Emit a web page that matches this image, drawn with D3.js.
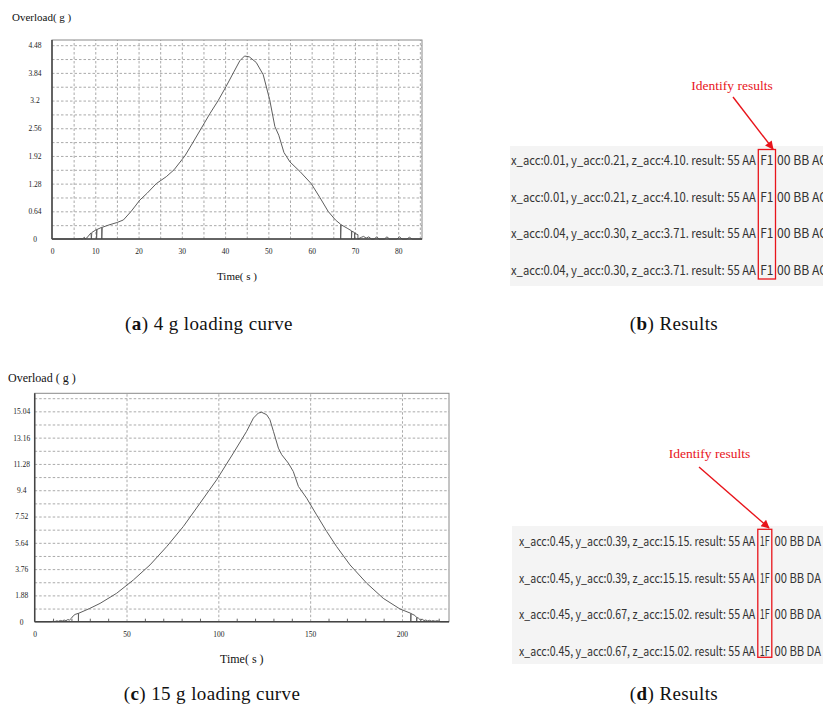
<!DOCTYPE html>
<html>
<head>
<meta charset="utf-8">
<script src="https://cdn.jsdelivr.net/npm/d3@7"></script>
<style>
  body { margin: 0; background: #fff; }
  svg { display: block; }
</style>
</head>
<body>
<svg id="fig" width="823" height="704"></svg>
<script>
// ---- (a) 4 g loading run: time (s) and overload (g) samples ----
const timeA = [0, 6.0, 6.5, 7.0, 7.5, 7.6, 8.0, 9.0, 9.1, 9.2, 10.3, 10.3, 10.4, 11.5, 11.5, 11.6,
  13.0, 15.0, 16.5, 18.3, 20.3, 22.0, 24.1, 26.4, 28.2, 30.7, 32.5, 34.5, 36.5, 38.4, 40.2, 41.9,
  43.4, 44.5, 45.6, 47.2, 48.8, 50.3, 51.5, 52.4, 53.6, 55.0, 57.3, 59.9, 61.9, 63.8, 65.5, 66.7,
  66.7, 66.8, 68.2, 69.2, 69.2, 69.3, 69.9, 69.9, 70.0, 70.7, 70.7, 71.5, 72.0, 72.6, 73.2, 73.8,
  74.5, 75.0, 75.6, 76.8, 77.4, 78.0, 79.7, 80.3, 80.9, 82.0, 82.6, 83.2, 85.5];
const overloadA = [0, 0, 0.01, 0, 0.04, 0, 0.02, 0.14, 0, 0.15, 0.22, 0, 0.22, 0.27, 0, 0.27,
  0.32, 0.38, 0.44, 0.64, 0.90, 1.06, 1.28, 1.44, 1.60, 1.92, 2.22, 2.56, 2.90, 3.20, 3.52, 3.84,
  4.12, 4.23, 4.21, 4.08, 3.80, 3.22, 2.60, 2.40, 2.00, 1.78, 1.56, 1.28, 0.96, 0.64, 0.44, 0.34,
  0, 0.33, 0.25, 0.19, 0, 0.18, 0.15, 0, 0.13, 0.10, 0, 0.04, 0.06, 0.02, 0.05, 0,
  0, 0.05, 0, 0, 0.05, 0, 0, 0.05, 0, 0, 0.04, 0, 0];
const yTicksA = [0, 0.64, 1.28, 1.92, 2.56, 3.2, 3.84, 4.48];
const xTicksA = [0, 10, 20, 30, 40, 50, 60, 70, 80];

// ---- (c) 15 g loading run ----
const timeC = [0, 9, 10, 11, 12, 13, 14, 15, 16, 17, 18, 19, 20, 21, 22, 23.8, 23.8, 23.9,
  30, 35.6, 44.6, 53.7, 62.8, 71.9, 80.9, 90, 99.1, 108.2, 115.4, 119.1, 121.8, 123.6, 126.3,
  128.1, 130, 132.7, 134.5, 138.1, 140.8, 143.6, 148.1, 153.5, 159, 164.4, 171.7, 180.8, 189.8,
  198.9, 204.8, 204.8, 204.9, 207, 208, 208, 208.1, 209, 210, 211, 212, 213, 214, 215, 216, 217,
  218, 219, 220.7, 221, 225.6];
const overloadC = [0, 0, 0.03, 0.01, 0.06, 0.03, 0.09, 0.05, 0.12, 0.07, 0.15, 0.12, 0.25, 0.42,
  0.52, 0.60, 0, 0.60, 0.95, 1.31, 2.03, 2.98, 4.06, 5.37, 6.80, 8.47, 10.15, 12.06, 13.61, 14.56,
  14.92, 14.97, 14.80, 14.44, 13.61, 12.41, 11.94, 11.34, 10.74, 9.67, 8.83, 7.64, 6.45, 5.37,
  4.06, 2.75, 1.67, 0.91, 0.60, 0, 0.58, 0.45, 0.30, 0, 0.30, 0.25, 0.12, 0.18, 0.08, 0.12,
  0.05, 0.10, 0.04, 0.08, 0.03, 0.07, 0.02, 0, 0];
const yTicksC = [0, 1.88, 3.76, 5.64, 7.52, 9.4, 11.28, 13.16, 15.04];
const xTicksC = [0, 50, 100, 150, 200];

// ---- (b)/(d) serial output of the recognizer ----
const xAccB = ["0.01", "0.01", "0.04", "0.04"];
const yAccB = ["0.21", "0.21", "0.30", "0.30"];
const zAccB = ["4.10", "4.10", "3.71", "3.71"];
const codeB = "F1";
const tailB = "00 BB AC";

const xAccD = ["0.45", "0.45", "0.45", "0.45"];
const yAccD = ["0.39", "0.39", "0.67", "0.67"];
const zAccD = ["15.15", "15.15", "15.02", "15.02"];
const codeD = "1F";
const tailD = "00 BB DA";

const svg = d3.select("#fig");
const SERIF = "'Liberation Serif', 'Times New Roman', serif";

// Arrowhead for the callouts
svg.append("defs").append("marker")
  .attr("id", "arrowhead")
  .attr("viewBox", "0 0 10 10")
  .attr("refX", 9).attr("refY", 5)
  .attr("markerWidth", 7).attr("markerHeight", 6)
  .attr("markerUnits", "strokeWidth")
  .attr("orient", "auto")
  .append("path").attr("d", "M0,0 L10,5 L0,10 Z").attr("fill", "#e8141b");

function loadingPanel(o) {
  const x = d3.scaleLinear().domain(o.xDomain).range([o.left, o.right]);
  const y = d3.scaleLinear().domain(o.yDomain).range([o.bottom, o.top]);
  const w = o.right - o.left, h = o.bottom - o.top;
  const g = svg.append("g");

  // dashed grid
  const gy = g.append("g").attr("transform", `translate(${o.left},0)`)
    .call(d3.axisLeft(y).tickValues(o.hGrid).tickSize(-w).tickFormat(""));
  const gx = g.append("g").attr("transform", `translate(0,${o.bottom})`)
    .call(d3.axisBottom(x).tickValues(o.vGrid).tickSize(-h).tickFormat(""));
  [gy, gx].forEach(s => {
    s.select(".domain").remove();
    s.selectAll("line").attr("stroke", "#aaaaaa").attr("stroke-width", 1)
      .attr("stroke-dasharray", "2.5,2");
  });

  // minor ticks along the time axis
  if (o.minor) {
    const gm = g.append("g").attr("transform", `translate(0,${o.bottom})`)
      .call(d3.axisBottom(x).tickValues(o.minor).tickSize(-3).tickFormat(""));
    gm.select(".domain").remove();
    gm.selectAll("line").attr("stroke", "#666");
  }

  // frame
  g.append("rect").attr("x", o.left).attr("y", o.top).attr("width", w).attr("height", h)
    .attr("fill", "none").attr("stroke", "#8a8a8a").attr("stroke-width", 1);
  g.append("line").attr("x1", o.left).attr("x2", o.left).attr("y1", o.top).attr("y2", o.bottom)
    .attr("stroke", "#444").attr("stroke-width", 1.5);

  // curve
  const pts = o.t.map((t, i) => [t, o.v[i]]);
  g.append("path").datum(pts)
    .attr("fill", "none").attr("stroke", "#5e5e5e").attr("stroke-width", 1)
    .attr("stroke-linejoin", "round")
    .attr("d", d3.line().x(d => x(d[0])).y(d => y(d[1])));

  g.append("line").attr("x1", o.left).attr("x2", o.right).attr("y1", o.bottom).attr("y2", o.bottom)
    .attr("stroke", "#444").attr("stroke-width", 1.5);

  // tick labels
  const ay = g.append("g").attr("transform", `translate(${o.left},0)`)
    .call(d3.axisLeft(y).tickValues(o.yTicks).tickSize(0).tickFormat(d => String(d)));
  ay.select(".domain").remove();
  ay.selectAll("text").attr("text-anchor", "middle").attr("x", -o.yLabelOffset)
    .attr("font-family", SERIF).attr("font-size", o.tickSize).attr("fill", "#222");

  const ax = g.append("g").attr("transform", `translate(0,${o.bottom})`)
    .call(d3.axisBottom(x).tickValues(o.xTicks).tickSize(0).tickPadding(o.xLabelPad).tickFormat(d => String(d)));
  ax.select(".domain").remove();
  ax.selectAll("text").attr("font-family", SERIF).attr("font-size", o.tickSize).attr("fill", "#222");

  // axis titles
  g.append("text").attr("x", o.yTitleX).attr("y", o.yTitleY)
    .attr("font-family", SERIF).attr("font-size", o.titleSize).attr("fill", "#111")
    .text(o.yTitle);
  g.append("text").attr("x", (o.left + o.right) / 2).attr("y", o.xTitleY)
    .attr("text-anchor", "middle")
    .attr("font-family", SERIF).attr("font-size", o.titleSize).attr("fill", "#111")
    .text(o.xTitle);
}

loadingPanel({
  t: timeA, v: overloadA,
  xDomain: [0, 85.5], yDomain: [0, 4.6],
  left: 52, right: 422, top: 40, bottom: 239,
  hGrid: d3.range(1, 15).map(k => +(k * 0.32).toFixed(2)),
  vGrid: d3.range(1, 18).map(k => k * 5),
  yTicks: yTicksA, xTicks: xTicksA,
  yLabelOffset: 17, xLabelPad: 10, tickSize: 7.5,
  yTitle: "Overload( g )", yTitleX: 12, yTitleY: 21,
  xTitle: "Time( s )", xTitleY: 280, titleSize: 11
});

loadingPanel({
  t: timeC, v: overloadC,
  xDomain: [0, 225.6], yDomain: [0, 16.33],
  left: 34.7, right: 449, top: 393.3, bottom: 621.7,
  hGrid: d3.range(1, 18).map(k => +(k * 0.94).toFixed(2)),
  vGrid: [50, 100, 150, 200],
  minor: d3.range(10, 225, 10).filter(v => v % 50 !== 0),
  yTicks: yTicksC, xTicks: xTicksC,
  yLabelOffset: 13, xLabelPad: 10, tickSize: 7.5,
  yTitle: "Overload ( g )", yTitleX: 8, yTitleY: 382,
  xTitle: "Time( s )", xTitleY: 663, titleSize: 12
});

// ---- serial output panels ----
function resultPanel(o) {
  const g = svg.append("g");
  g.append("rect").attr("x", o.bgX).attr("y", o.bgTop).attr("width", 823 - o.bgX)
    .attr("height", o.bgBottom - o.bgTop).attr("fill", "#f4f4f4");

  const rows = o.xAcc.map((xv, i) =>
    `x_acc:${xv}, y_acc:${o.yAcc[i]}, z_acc:${o.zAcc[i]}. result: 55 AA`);
  const rowY = d3.scaleLinear().domain([0, 3]).range([o.firstRow, o.lastRow]);

  rows.forEach((txt, i) => {
    const yy = rowY(i);
    const base = { "font-family": "'Noto Sans CJK SC', 'Noto Sans', sans-serif", "font-size": 13, "fill": "#333", "dominant-baseline": "central" };
    const t1 = g.append("text").attr("x", o.textX).attr("y", yy)
      .attr("textLength", o.boxX - 2.5 - o.textX).attr("lengthAdjust", "spacingAndGlyphs").text(txt);
    const t2 = g.append("text").attr("x", o.boxX + o.boxW / 2).attr("y", yy)
      .attr("text-anchor", "middle")
      .attr("textLength", o.boxW - 4).attr("lengthAdjust", "spacingAndGlyphs").text(o.code);
    const t3 = g.append("text").attr("x", o.tailX).attr("y", yy)
      .attr("textLength", o.tailW).attr("lengthAdjust", "spacingAndGlyphs").text(o.tail);
    [t1, t2, t3].forEach(t => Object.entries(base).forEach(([k, v]) => t.attr(k, v)));
  });

  // highlight box around the identification code
  g.append("rect").attr("x", o.boxX).attr("y", o.boxTop).attr("width", o.boxW)
    .attr("height", o.boxBottom - o.boxTop)
    .attr("fill", "none").attr("stroke", "#e8141b").attr("stroke-width", 1.3);

  // callout
  g.append("text").attr("x", o.labelX).attr("y", o.labelY).attr("text-anchor", "middle")
    .attr("font-family", SERIF).attr("font-size", 13.5).attr("fill", "#e8141b")
    .text("Identify results");
  g.append("line").attr("x1", o.arrow[0]).attr("y1", o.arrow[1])
    .attr("x2", o.arrow[2]).attr("y2", o.arrow[3])
    .attr("stroke", "#e8141b").attr("stroke-width", 1.4)
    .attr("marker-end", "url(#arrowhead)");
}

resultPanel({
  xAcc: xAccB, yAcc: yAccB, zAcc: zAccB, code: codeB, tail: tailB,
  bgX: 510, bgTop: 146, bgBottom: 286,
  textX: 511, firstRow: 159.5, lastRow: 269.5,
  boxX: 758.3, boxW: 17.2, boxTop: 149.5, boxBottom: 279,
  tailX: 777, tailW: 50,
  labelX: 732, labelY: 90,
  arrow: [733, 97, 773, 149]
});

resultPanel({
  xAcc: xAccD, yAcc: yAccD, zAcc: zAccD, code: codeD, tail: tailD,
  bgX: 512, bgTop: 526, bgBottom: 664,
  textX: 519, firstRow: 540.5, lastRow: 650.5,
  boxX: 757.8, boxW: 14, boxTop: 529.3, boxBottom: 657.3,
  tailX: 774.5, tailW: 46.5,
  labelX: 709.5, labelY: 458,
  arrow: [699, 467, 769, 528]
});

// ---- sub-figure captions ----
const captions = [
  { id: "a", rest: " 4 g loading curve", x: 209, y: 330 },
  { id: "b", rest: " Results", x: 674, y: 330 },
  { id: "c", rest: " 15 g loading curve", x: 212, y: 700 },
  { id: "d", rest: " Results", x: 674, y: 700 }
];
captions.forEach(c => {
  const t = svg.append("text").attr("x", c.x).attr("y", c.y).attr("text-anchor", "middle")
    .attr("font-family", SERIF).attr("font-size", 19).attr("letter-spacing", 0.4)
    .attr("fill", "#111");
  t.append("tspan").text("(");
  t.append("tspan").attr("font-weight", "bold").text(c.id);
  t.append("tspan").text(")" + c.rest);
});
</script>
</body>
</html>
